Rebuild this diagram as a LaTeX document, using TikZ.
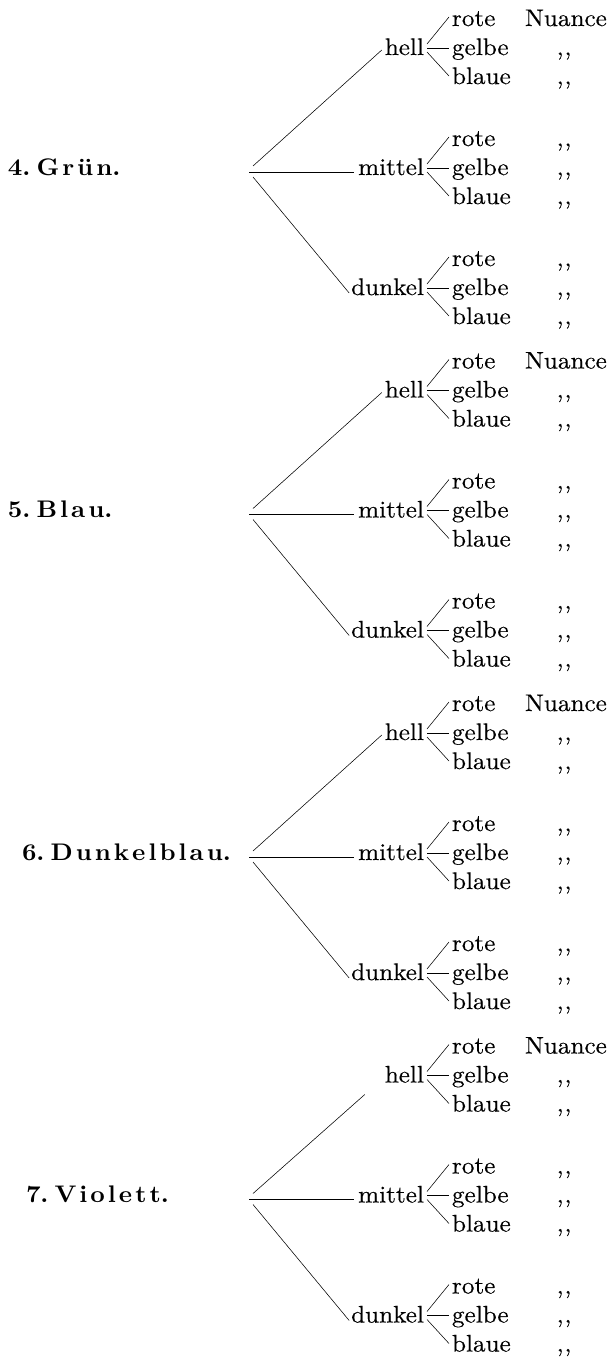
\documentclass[tikz,border=0pt]{standalone}
\usepackage{fontspec}
\setmainfont{lmroman10}[Extension=.otf, UprightFont=*-regular, BoldFont=*-bold, FakeStretch=1.05, UprightFeatures={FakeBold=0.3}]
\usetikzlibrary{calc}
\tikzset{
  lbl/.style={inner sep=0pt, outer sep=0pt, font=\fontsize{24}{24}\selectfont},
  ttl/.style={lbl, font=\fontsize{24}{24}\selectfont\bfseries, anchor=base west},
  leaf/.style={lbl, anchor=base west},
  midw/.style={lbl, anchor=base east},
  dit/.style={lbl, anchor=base},
  conn/.style={line width=0.55pt},
}
\newcommand\ditmark{,\kern0.8pt,}
\begin{document}
\begin{tikzpicture}[x=1pt,y=-1pt]
\useasboundingbox (0,0) rectangle (613,1360);
\foreach \i/\off/\tx/\ux/\uy/\ttext in {
  1/0/8/-3/-5/{4.\kern6pt G\kern3pt r\kern3pt ü\kern3pt n.},
  2/342.5/8/-3/-5/{5.\kern6pt B\kern3pt l\kern3pt a\kern3pt u.},
  3/685/22/-3/-5/{6.\kern6pt D\kern3pt u\kern3pt n\kern3pt k\kern3pt e\kern3pt l\kern3pt b\kern3pt l\kern3pt a\kern3pt u.},
  4/1027.5/26/-20/12/{7.\kern6pt V\kern3pt i\kern3pt o\kern3pt l\kern3pt e\kern3pt t\kern3pt t.}}{
\begin{scope}[shift={(0,\off)}]
  \node[ttl] (b\i t) at (\tx,175) {\ttext};
  \coordinate (b\i o) at (249,172);
  \node[midw] (b\i h) at (424,55) {hell};
  \node[midw] (b\i m) at (424,175) {mittel};
  \node[midw] (b\i d) at (424,295) {dunkel};
  \foreach \g/\gb in {h/55,m/175,d/295}{
    \node[leaf] (b\i\g1) at (452,\gb-29) {rote};
    \node[leaf] (b\i\g2) at (452,\gb) {gelbe};
    \node[leaf] (b\i\g3) at (452,\gb+29) {blaue};
    \node[dit] (b\i\g d2) at (564,\gb) {\ditmark};
    \node[dit] (b\i\g d3) at (564,\gb+29) {\ditmark};
    \draw[conn] ([shift={(3,-11)}]b\i\g.base east) -- ([shift={(-3,-9)}]b\i\g1.base west);
    \draw[conn] ([shift={(3,-7)}]b\i\g.base east) -- ([shift={(-3,-7)}]b\i\g2.base west);
    \draw[conn] ([shift={(3,-3)}]b\i\g.base east) -- ([shift={(-3,-8)}]b\i\g3.base west);
  }
  \node[leaf] (b\i n) at (525,26) {Nuance};
  \node[dit] (b\i md1) at (564,146) {\ditmark};
  \node[dit] (b\i dd1) at (564,266) {\ditmark};
  \draw[conn] ($(b\i o)+(4,-6)$) -- ([shift={(\ux,\uy)}]b\i h.base west);
  \draw[conn] (b\i o) -- ([shift={(-4,-3)}]b\i m.base west);
  \draw[conn] ($(b\i o)+(4,5)$) -- ([shift={(-2,-2)}]b\i d.base west);
\end{scope}
}
\end{tikzpicture}
\end{document}
